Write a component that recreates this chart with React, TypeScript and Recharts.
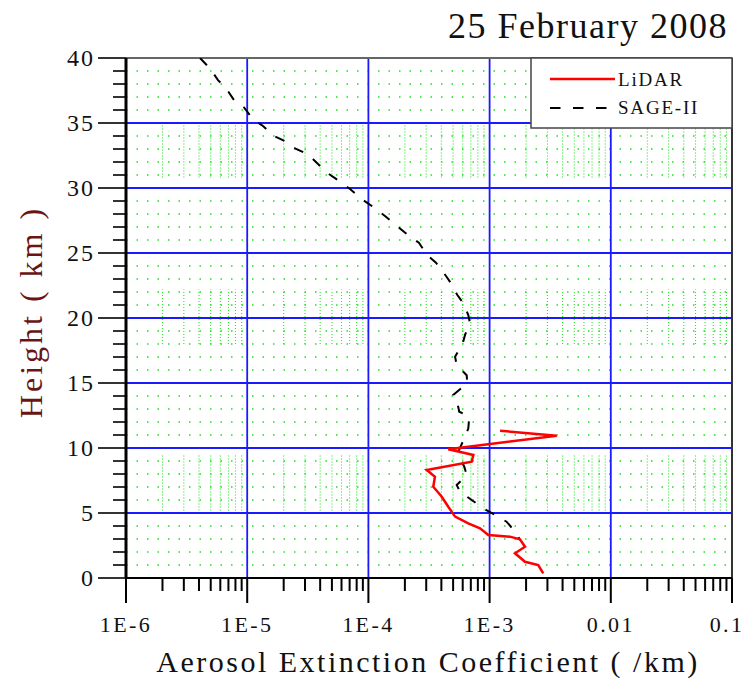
import React from 'react';
import { ScatterChart, Scatter, XAxis, YAxis, ReferenceLine } from 'recharts';

// ---------- data ----------
const lidarHeight = [11.33, 10.95, 9.9, 9.46, 8.95, 8.31, 7.79, 7.02, 6.25, 5.48, 4.72, 4.2, 3.82, 3.31, 3.18, 2.97, 2.41, 1.9, 1.25, 1.0, 0.36];
const lidarExt = [1.22e-3, 3.58e-3, 4.56e-4, 7.35e-4, 7.11e-4, 3.03e-4, 3.54e-4, 3.43e-4, 4.03e-4, 4.56e-4, 5.19e-4, 6.67e-4, 8.34e-4, 9.75e-4, 1.47e-3, 1.78e-3, 1.96e-3, 1.62e-3, 1.96e-3, 2.52e-3, 2.77e-3];

const sageHeight = [40, 39.2, 38.3, 37.67, 36.77, 36.2, 35.28, 34.77, 34.0, 33.56, 33.0, 32.59, 31.85, 31.18, 30.44, 29.92, 29.08, 28.56, 27.85, 27.2, 26.38, 25.79, 24.85, 24.25, 23.23, 22.67, 21.77, 21.13, 20.23, 19.6, 18.7, 18.05, 17.02, 16.38, 15.6, 14.98, 14.08, 13.7, 12.79, 12.4, 11.5, 10.87, 9.72, 9.33, 8.56, 7.92, 7.15, 6.64, 6.0, 5.36, 4.85, 4.33, 3.44, 2.92];
const sageExt = [4.08e-6, 4.93e-6, 5.74e-6, 6.69e-6, 7.78e-6, 9.41e-6, 1.12e-5, 1.35e-5, 1.66e-5, 2.09e-5, 2.53e-5, 3.17e-5, 3.84e-5, 4.55e-5, 5.94e-5, 7.05e-5, 9.02e-5, 1.09e-4, 1.37e-4, 1.66e-4, 2.12e-4, 2.61e-4, 3.04e-4, 3.61e-4, 4.37e-4, 4.8e-4, 5.42e-4, 6.07e-4, 6.67e-4, 6.89e-4, 6.27e-4, 6.0e-4, 5.19e-4, 5.35e-4, 6.47e-4, 6.55e-4, 5.01e-4, 5.35e-4, 5.62e-4, 6.8e-4, 6.67e-4, 6.27e-4, 5.52e-4, 5.62e-4, 6.18e-4, 6.47e-4, 5.35e-4, 5.7e-4, 7.11e-4, 8.87e-4, 1.11e-3, 1.38e-3, 1.67e-3, 1.78e-3];

const xMajorTicks = [1e-6, 1e-5, 1e-4, 1e-3, 0.01, 0.1];
const xMajorLabels = ['1E-6', '1E-5', '1E-4', '1E-3', '0.01', '0.1'];
const minorMultipliers = [2, 3, 4, 5, 6, 7, 8, 9];
const yMajorTicks = [0, 5, 10, 15, 20, 25, 30, 35, 40];
const yMinorStep = 1;
const denseGridBands = [[5.2, 9.5], [18.0, 22.2], [30.8, 35.0]];

const titleText = '25 February 2008';
const xTitle = 'Aerosol Extinction Coefficient ( /km)';
const yTitle = 'Height ( km )';
const seriesNames = ['LiDAR', 'SAGE-II'];

// ---------- derived tables ----------
const lidarData = lidarHeight.map((h, i) => ({ h, v: lidarExt[i] }));
const sageData = sageHeight.map((h, i) => ({ h, v: sageExt[i] }));

const xMinorTicks: number[] = [];
xMajorTicks.slice(0, -1).forEach((d) => minorMultipliers.forEach((m) => xMinorTicks.push(m * d)));
const xAllTicks = [...xMajorTicks, ...xMinorTicks].sort((a, b) => a - b);

const yAllTicks: number[] = [];
for (let k = 0; k <= 40; k += yMinorStep) yAllTicks.push(k);
const yMinorLines = yAllTicks.filter((k) => yMajorTicks.indexOf(k) < 0);

// ---------- layout ----------
const W = 741;
const H = 673;
const FONT = "'Liberation Serif', 'Times New Roman', serif";

const majorIndex = (v: number) =>
  xMajorTicks.findIndex((t) => Math.abs(Math.log10(t) - Math.log10(v)) < 1e-6);

const XTick = (props: any) => {
  const { x, y, payload } = props;
  const idx = majorIndex(payload.value);
  const major = idx >= 0;
  const shift = idx === xMajorTicks.length - 1 ? -5 : 0;
  return (
    <g>
      <line x1={x} x2={x} y1={y} y2={y + (major ? 25 : 13)} stroke="#000" strokeWidth={2} />
      {major && (
        <text x={x + shift} y={y + 54} textAnchor="middle" fontFamily={FONT} fontSize={22} letterSpacing={2.4} fill="#111">
          {xMajorLabels[idx]}
        </text>
      )}
    </g>
  );
};

const YTick = (props: any) => {
  const { x, y, payload } = props;
  const v = payload.value;
  const major = yMajorTicks.indexOf(v) >= 0;
  return (
    <g>
      <line x1={x - (major ? 28 : 13)} x2={x} y1={y} y2={y} stroke="#000" strokeWidth={1.6} />
      {major && (
        <text x={x - 31} y={y} dy="0.35em" textAnchor="end" fontFamily={FONT} fontSize={24} letterSpacing={2} fill="#111">
          {v}
        </text>
      )}
    </g>
  );
};

const NoDot = () => <g />;

export default function App() {
  return (
    <div style={{ position: 'relative', width: W, height: H }}>
      <ScatterChart width={W} height={H} margin={{ top: 50, right: 17, bottom: 0, left: 0 }}>
        <XAxis
          type="number"
          dataKey="v"
          scale="log"
          domain={[1e-6, 0.1]}
          ticks={xAllTicks}
          interval={0}
          allowDataOverflow
          height={103}
          tickSize={0}
          tickMargin={0}
          tickLine={false}
          tick={<XTick />}
          axisLine={{ stroke: '#000', strokeWidth: 2 }}
        />
        <YAxis
          type="number"
          dataKey="h"
          domain={[0, 40]}
          ticks={yAllTicks}
          interval={0}
          allowDataOverflow
          width={118}
          tickSize={0}
          tickMargin={0}
          tickLine={false}
          tick={<YTick />}
          axisLine={{ stroke: '#000', strokeWidth: 3 }}
        />
        {yMinorLines.map((k) => (
          <ReferenceLine key={'hy' + k} y={k} stroke="#1ee01e" strokeWidth={1.4} strokeDasharray="1.5 9" />
        ))}
        {denseGridBands.map((b, bi) =>
          xMinorTicks.map((m) => (
            <ReferenceLine
              key={'vb' + bi + '_' + m}
              segment={[{ x: m, y: b[0] }, { x: m, y: b[1] }]}
              stroke="#22e822"
              strokeWidth={1.1}
              strokeDasharray="1 2"
            />
          ))
        )}
        {yMajorTicks.slice(1, -1).map((k) => (
          <ReferenceLine key={'by' + k} y={k} stroke="#1a1aff" strokeWidth={1.8} />
        ))}
        {xMajorTicks.slice(1, -1).map((k) => (
          <ReferenceLine key={'bx' + k} x={k} stroke="#1a1aff" strokeWidth={1.8} />
        ))}
        <ReferenceLine y={40} stroke="#666" strokeWidth={2} />
        <ReferenceLine x={0.1} stroke="#333" strokeWidth={2} />
        <Scatter
          name={seriesNames[1]}
          data={sageData}
          fill="#000"
          line={{ stroke: '#000', strokeWidth: 2, strokeDasharray: '10 12' }}
          lineType="joint"
          shape={<NoDot />}
          isAnimationActive={false}
        />
        <Scatter
          name={seriesNames[0]}
          data={lidarData}
          fill="#ff0000"
          line={{ stroke: '#ff0000', strokeWidth: 2.5 }}
          lineType="joint"
          shape={<NoDot />}
          isAnimationActive={false}
        />
      </ScatterChart>
      <svg width={749} height={681} style={{ position: 'absolute', left: -8, top: -8, pointerEvents: 'none' }}>
        <text x={728} y={38} textAnchor="end" fontFamily={FONT} fontSize={36} letterSpacing={1.5} fill="#111">
          {titleText}
        </text>
        <text x={428} y={672} textAnchor="middle" fontFamily={FONT} fontSize={30} letterSpacing={2.5} fill="#111">
          {xTitle}
        </text>
        <g transform="translate(42,312) rotate(-90)">
          <text x={0} y={0} textAnchor="middle" fontFamily={FONT} fontSize={32} letterSpacing={3} fill="#6a1414">
            {yTitle}
          </text>
        </g>
        <rect x={531} y={58} width={201} height={70} fill="#fff" stroke="#444" strokeWidth={1.5} />
        <line x1={550} x2={615} y1={79} y2={79} stroke="#ff0000" strokeWidth={2.5} />
        <text x={618} y={86} fontFamily={FONT} fontSize={19} letterSpacing={1.8} fill="#111">
          {seriesNames[0]}
        </text>
        <line x1={550} x2={608} y1={108} y2={108} stroke="#000" strokeWidth={2} strokeDasharray="10.5 12.5" />
        <text x={618} y={114} fontFamily={FONT} fontSize={19} letterSpacing={1.8} fill="#111">
          {seriesNames[1]}
        </text>
      </svg>
    </div>
  );
}
